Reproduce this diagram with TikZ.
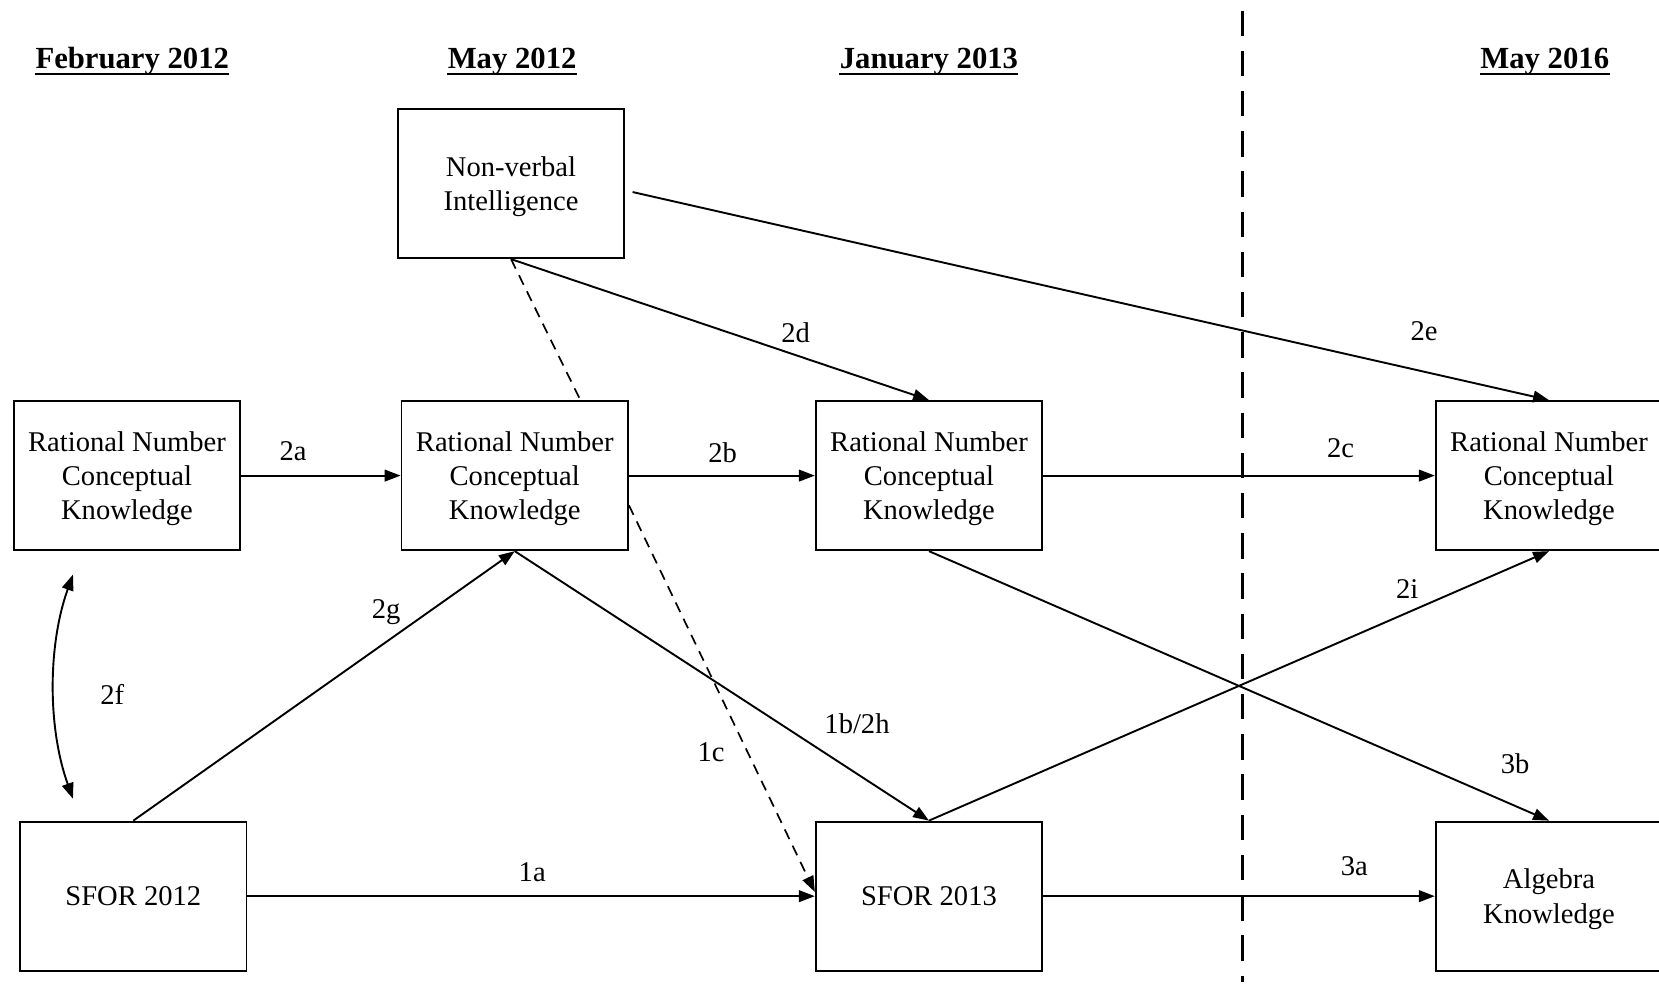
\documentclass[tikz,border=0pt]{standalone}
\usepackage{fontspec}
\setmainfont{Liberation Serif}
\usetikzlibrary{arrows.meta}
\begin{document}
\begin{tikzpicture}[x=0.5pt,y=-0.5pt,
  box/.style={draw,line width=0.9pt,minimum width=107pt,minimum height=70.5pt,align=center,inner sep=2pt,font=\fontsize{13.5}{16.25}\selectfont,text depth=0pt},
  lbl/.style={font=\fontsize{13.5}{16.25}\selectfont,inner sep=0pt},
  hd/.style={font=\fontsize{14.5}{17}\selectfont\bfseries,inner sep=0pt,anchor=base},
  ul/.style={line width=1.1pt},
  conn/.style={line width=0.9pt,-{Triangle[length=7.5pt,width=5.5pt]}},
  dconn/.style={line width=0.8pt,dash pattern=on 5pt off 3.5pt},
  sep/.style={line width=1.4pt,dash pattern=on 12pt off 7pt}]
\useasboundingbox (0,0) rectangle (1568,933);

% headings
\node[hd] (h1) at (125,65) {February 2012};
\node[hd] (h2) at (484,65) {May 2012};
\node[hd] (h3) at (878,65) {January 2013};
\node[hd] (h4) at (1460,65) {May 2016};
\foreach \h in {h1,h2,h3,h4}
  \draw[ul] ([yshift=-2.6pt]\h.base west) -- ([yshift=-2.6pt]\h.base east);

% separator
\coordinate (vt) at (1174,10);
\coordinate (vb) at (1174,928);
\draw[sep] (vt) -- (vb);

% boxes
\node[box] (nvi) at (483,173.5) {Non-verbal\\Intelligence};
\node[box] (rn1) at (120,449.5) {Rational Number\\Conceptual\\Knowledge};
\node[box] (rn2) at (486.5,449.5) {Rational Number\\Conceptual\\Knowledge};
\node[box] (rn3) at (878,449.5) {Rational Number\\Conceptual\\Knowledge};
\node[box] (rn4) at (1464,449.5) {Rational Number\\Conceptual\\Knowledge};
\node[box] (s12) at (126,847) {SFOR 2012};
\node[box] (s13) at (878,847) {SFOR 2013};
\node[box] (alg) at (1464,847) {Algebra\\Knowledge};

% connectors
\draw[conn] (rn1.east) -- (rn2.west);
\draw[conn] (rn2.east) -- (rn3.west);
\draw[conn] (rn3.east) -- (rn4.west);
\draw[conn] (nvi.south) -- (rn3.north);
\draw[conn] ([xshift=3.5pt,yshift=-4pt]nvi.east) -- (rn4.north);
\draw[dconn] (nvi.south) -- ([xshift=31pt]rn2.north);
\draw[dconn,-{Triangle[length=7.5pt,width=5.5pt]}] ([yshift=-14pt]rn2.east) -- ([yshift=2pt]s13.west);
\draw[conn] (s12.north) -- (rn2.south);
\draw[conn] (rn2.south) -- (s13.north);
\draw[conn] (s13.north) -- (rn4.south);
\draw[conn] (rn3.south) -- (alg.north);
\draw[conn] (s12.east) -- (s13.west);
\draw[conn] (s13.east) -- (alg.west);
\coordinate (f1) at (69,543);
\coordinate (f2) at (69,755);
\draw[line width=0.9pt,{Triangle[length=7.5pt,width=5.5pt]}-{Triangle[length=7.5pt,width=5.5pt]}] (f1) .. controls (45,610) and (45,688) .. (f2);

% labels
\node[lbl] (l2a) at (277,426) {2a};
\node[lbl] (l2b) at (683,428) {2b};
\node[lbl] (l2c) at (1267,424) {2c};
\node[lbl] (l2d) at (752,314) {2d};
\node[lbl] (l2e) at (1346,313) {2e};
\node[lbl] (l2f) at (106,656) {2f};
\node[lbl] (l2g) at (365,579) {2g};
\node[lbl] (l1b) at (810,684) {1b/2h};
\node[lbl] (l1c) at (672,711) {1c};
\node[lbl] (l2i) at (1330,557) {2i};
\node[lbl] (l3b) at (1432,722) {3b};
\node[lbl] (l1a) at (503,824) {1a};
\node[lbl] (l3a) at (1280,819) {3a};
\end{tikzpicture}
\end{document}
